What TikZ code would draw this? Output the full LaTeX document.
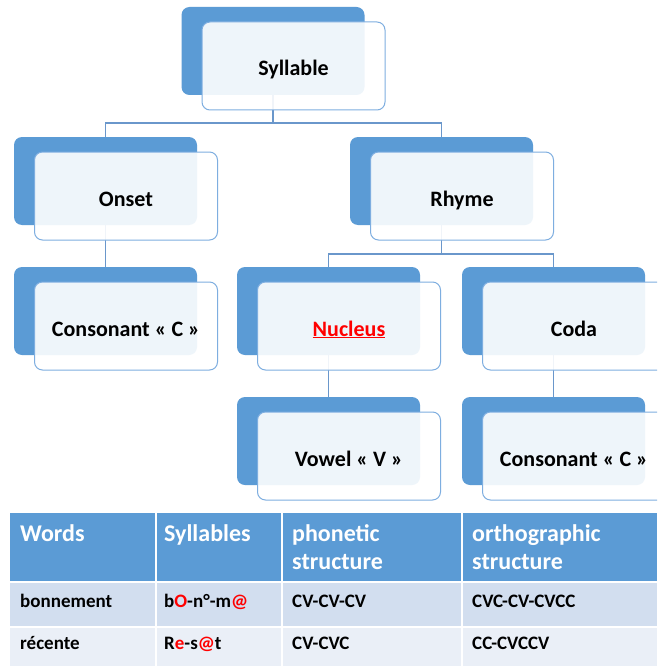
\documentclass[tikz,border=0pt]{standalone}
\usepackage{fontspec}
\setmainfont{Carlito}
\usetikzlibrary{calc}
\definecolor{boxblue}{HTML}{5B9BD5}
\definecolor{edgeblue}{HTML}{7EAEE0}
\definecolor{lineblue}{HTML}{6A97CB}
\definecolor{rowa}{HTML}{D2DEEF}
\definecolor{rowb}{HTML}{EAEFF7}
\definecolor{hlred}{HTML}{FF0000}
\newcommand{\rd}[1]{\textcolor{hlred}{#1}}
\begin{document}
\begin{tikzpicture}[x=1pt,y=-1pt,
  backbox/.style={rectangle, rounded corners=8pt, fill=boxblue, minimum width=183pt, minimum height=88pt, inner sep=0pt},
  frontbox/.style={rectangle, rounded corners=8pt, fill=white, fill opacity=0.9, text opacity=1, draw=edgeblue, draw opacity=1, line width=1pt, minimum width=183pt, minimum height=88pt, inner sep=0pt, text height=24pt, text depth=4pt, font=\fontsize{22}{26}\selectfont\bfseries},
  conn/.style={draw=lineblue, line width=1.4pt},
  hdrcell/.style={fill=boxblue},
  hdrtext/.style={anchor=base west, inner sep=0pt, text=white, align=left, font=\fontsize{24}{28}\selectfont\bfseries},
  bodytext/.style={anchor=base west, inner sep=0pt, text=black, font=\fontsize{19}{23}\selectfont\bfseries}]
\clip (0,0) rectangle (657,666);
\fill[white] (0,0) rectangle (657,666);

% back boxes
\node[backbox] (sylB) at (273,51) {};
\node[backbox] (onsB) at (105.5,181) {};
\node[backbox] (rhyB) at (441.5,181) {};
\node[backbox] (conlB) at (105.5,311) {};
\node[backbox] (nucB) at (328.5,311) {};
\node[backbox] (codB) at (553.5,311) {};
\node[backbox] (vowB) at (328.5,441) {};
\node[backbox] (conrB) at (553.5,441) {};

% connectors
\coordinate (j1) at (0,123);
\coordinate (j2) at (0,254);
\draw[conn] (sylB.south) -- (sylB.south |- j1);
\draw[conn] (onsB.north) -- (onsB.north |- j1) -- (rhyB.north |- j1) -- (rhyB.north);
\draw[conn] (onsB.south) -- (conlB.north);
\draw[conn] (rhyB.south) -- (rhyB.south |- j2);
\draw[conn] (nucB.north) -- (nucB.north |- j2) -- (codB.north |- j2) -- (codB.north);
\draw[conn] (nucB.south) -- (vowB.north);
\draw[conn] (codB.south) -- (conrB.north);

% front boxes
\node[frontbox] (sylF) at ([shift={(20.5,15)}]sylB.center) {Syllable};
\node[frontbox] (onsF) at ([shift={(20.5,15)}]onsB.center) {Onset};
\node[frontbox] (rhyF) at ([shift={(20.5,15)}]rhyB.center) {Rhyme};
\node[frontbox] (conlF) at ([shift={(20.5,15)}]conlB.center) {Consonant « C »};
\node[frontbox] (nucF) at ([shift={(20.5,15)}]nucB.center) {\textcolor{hlred}{\underline{Nucleus}}};
\node[frontbox] (codF) at ([shift={(20.5,15)}]codB.center) {Coda};
\node[frontbox] (vowF) at ([shift={(20.5,15)}]vowB.center) {Vowel « V »};
\node[frontbox] (conrF) at ([shift={(20.5,15)}]conrB.center) {Consonant « C »};

% table cells
\fill[hdrcell] (10,513) rectangle (155,581);
\fill[hdrcell] (156.5,513) rectangle (281,581);
\fill[hdrcell] (282.5,513) rectangle (461,581);
\fill[hdrcell] (463,513) rectangle (657,581);
\fill[rowa] (10,583) rectangle (155,626);
\fill[rowa] (156.5,583) rectangle (281,626);
\fill[rowa] (282.5,583) rectangle (461,626);
\fill[rowa] (463,583) rectangle (657,626);
\fill[rowb] (10,628) rectangle (155,666);
\fill[rowb] (156.5,628) rectangle (281,666);
\fill[rowb] (282.5,628) rectangle (461,666);
\fill[rowb] (463,628) rectangle (657,666);

% header text
\node[hdrtext] (h1) at (20,541) {Words};
\node[hdrtext] (h2) at (164,541) {Syllables};
\node[hdrtext] (h3) at (292,569) {phonetic\\structure};
\node[hdrtext] (h4) at (472,569) {orthographic\\structure};

% body text
\node[bodytext] (a1) at (20,607) {bonnement};
\node[bodytext] (a2) at (164,607) {b\rd{O}-n°-m\rd{@}};
\node[bodytext] (a3) at (292,607) {CV-CV-CV};
\node[bodytext] (a4) at (472,607) {CVC-CV-CVCC};
\node[bodytext] (b1) at (20,649) {récente};
\node[bodytext] (b2) at (164,649) {R\rd{e}-s\rd{@}t};
\node[bodytext] (b3) at (292,649) {CV-CVC};
\node[bodytext] (b4) at (472,649) {CC-CVCCV};
\end{tikzpicture}
\end{document}
